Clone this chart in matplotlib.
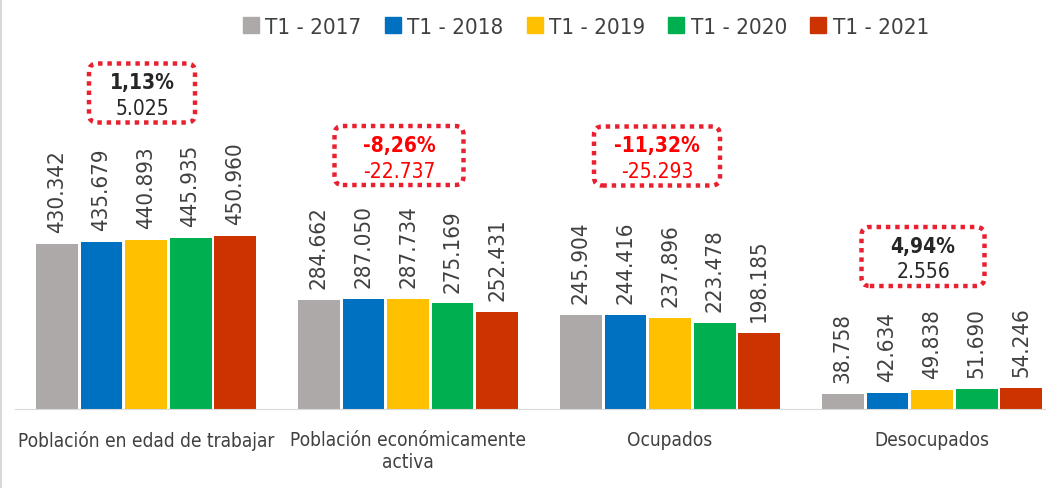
import matplotlib.pyplot as plt
import numpy as np
from matplotlib.patches import FancyBboxPatch
from matplotlib.lines import Line2D

plt.rcParams['font.family'] = ['DejaVu Sans']
plt.rcParams['font.stretch'] = 'condensed'

categorias = ["Población en edad de trabajar", "Población económicamente\nactiva",
              "Ocupados", "Desocupados"]
series = ["T1 - 2017", "T1 - 2018", "T1 - 2019", "T1 - 2020", "T1 - 2021"]
t1_2017 = [430342, 284662, 245904, 38758]
t1_2018 = [435679, 287050, 244416, 42634]
t1_2019 = [440893, 287734, 237896, 49838]
t1_2020 = [445935, 275169, 223478, 51690]
t1_2021 = [450960, 252431, 198185, 54246]
variacion_pct = ["1,13%", "-8,26%", "-11,32%", "4,94%"]
variacion_abs = ["5.025", "-22.737", "-25.293", "2.556"]

valores = [t1_2017, t1_2018, t1_2019, t1_2020, t1_2021]
colores = ["#ADA9A9", "#0070C0", "#FFC000", "#00B050", "#CC3300"]
gris = "#404040"

fig = plt.figure(figsize=(10.46, 4.89), dpi=100)
ax = fig.add_axes([15 / 1046, 79 / 489, 1031 / 1046, 390 / 489])

x = np.arange(len(categorias))
paso = 0.17
for k, (vals, col) in enumerate(zip(valores, colores)):
    pos = x + (k - 2) * paso
    ax.bar(pos, vals, width=0.16, color=col, label=series[k])
    for p, v in zip(pos, vals):
        ax.annotate(f"{v:,}".replace(",", "."), (p, v), xytext=(0, 8.5),
                    textcoords="offset points", rotation=90, ha="center",
                    va="bottom", fontsize=16, color=gris)

ax.set_xlim(-0.5, -0.5 + 1031 / 262)
ax.set_ylim(0, 1016700)
ax.set_yticks([])
ax.set_xticks(x)
ax.set_xticklabels(categorias, fontsize=13.7, color=gris)
ax.tick_params(axis="x", length=0, pad=15)
for s in ["left", "right", "top"]:
    ax.spines[s].set_visible(False)
ax.spines["bottom"].set_color("#D9D9D9")

# cajas de variacion: centro y ancho en pixeles del lienzo
cajas_xy = [(142, 94), (399, 156.5), (657, 157), (923, 257.5)]
cajas_ancho = [106, 129, 126, 123]
for (cx, cy), w, pct, ab in zip(cajas_xy, cajas_ancho, variacion_pct, variacion_abs):
    col = "red" if pct.startswith("-") else "#262626"
    fy = 1 - cy / 489
    fig.text(cx / 1046, fy + 5 / 489, pct, ha="center", va="baseline",
             fontsize=15, fontweight="bold", color=col)
    fig.text(cx / 1046, fy - 21 / 489, ab, ha="center", va="baseline",
             fontsize=15, color=col)
    h = 59
    caja = FancyBboxPatch(((cx - w / 2) / 1046, fy - h / 2 / 489), w / 1046, h / 489,
                          boxstyle="round,pad=0,rounding_size=0.008",
                          mutation_aspect=1046 / 489, transform=fig.transFigure,
                          facecolor="none", edgecolor="#E8202F", linewidth=3.2,
                          linestyle=(0, (1, 1.1)))
    fig.add_artist(caja)

handles = [Line2D([], [], marker="s", linestyle="none", markersize=11,
                  markerfacecolor=c, markeredgecolor=c) for c in colores]
fig.legend(handles, series, loc="center", bbox_to_anchor=(585 / 1046, 1 - 28 / 489),
           ncol=5, frameon=False, fontsize=16, handlelength=0.9, handletextpad=0.2,
           columnspacing=0.95, labelcolor=gris)

fig.add_artist(Line2D([0.5 / 1046, 0.5 / 1046], [0, 1], transform=fig.transFigure,
                      color="#D9D9D9", linewidth=1.5))

plt.savefig("out.png")
